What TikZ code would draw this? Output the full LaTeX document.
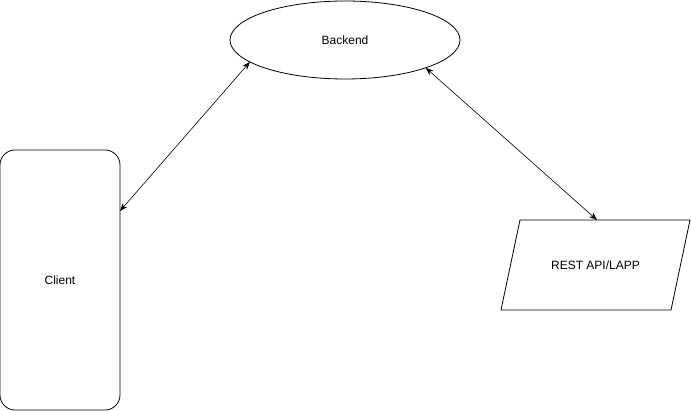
\documentclass[tikz,border=0pt]{standalone}
\usepackage{fontspec}
\setmainfont{Liberation Sans}
\usetikzlibrary{shapes.geometric, arrows.meta}

\begin{document}
\begin{tikzpicture}[
  x=1pt, y=-1pt, line width=0.8pt,
  font=\fontsize{12}{14}\selectfont,
  box/.style={draw, inner sep=0pt, outer sep=0pt},
  link/.style={arrows={Stealth[length=8pt,width=6pt]-Stealth[length=8pt,width=6pt]}, line width=0.6pt},
]
  \useasboundingbox (0,0) rectangle (691,411);

  % 三个部件
  \node[box, ellipse, minimum width=230pt, minimum height=78pt] (backend) at (345,40) {Backend};
  \node[box, rectangle, rounded corners=15pt, minimum width=120pt, minimum height=260pt] (client) at (60,280) {Client};

  % 平行四边形：上边 520--690，下边 501--671
  \coordinate (RA) at (501,310);
  \coordinate (RB) at (520,220);
  \coordinate (RC) at (690,220);
  \coordinate (RD) at (671,310);
  \draw (RA) -- (RB) -- (RC) -- (RD) -- cycle;
  \node (rest) at (595.5,265) {REST API/LAPP};
  \coordinate (restTop) at (597,220);

  % 双向连线
  \draw[link] (client.49.4) -- (backend.193);
  \draw[link] (backend.341) -- (restTop);
\end{tikzpicture}
\end{document}
